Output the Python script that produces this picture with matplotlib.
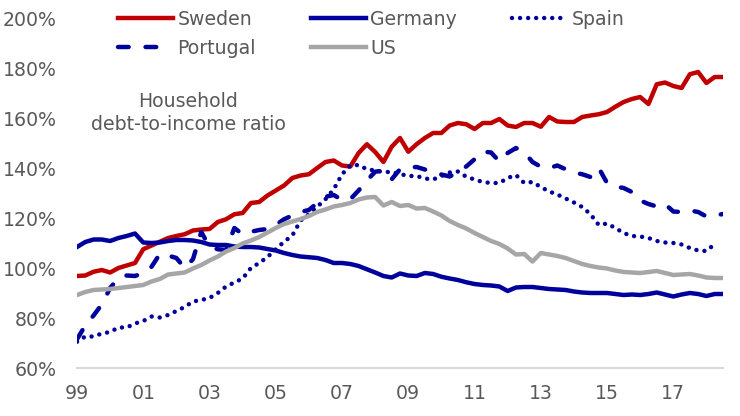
import numpy as np
import matplotlib
matplotlib.use("Agg")
import matplotlib.pyplot as plt

# Quarterly data, 1999Q1 .. 2018Q3 (79 quarters), household debt-to-income ratio (%)
sweden = [96.8, 97.0, 98.5, 99.2, 98.2, 100.0, 101.0, 102.0, 107.5, 109.0,
          110.5, 112.0, 112.8, 113.5, 115.0, 115.4, 115.6, 118.4, 119.5, 121.5,
          122.0, 126.0, 126.4, 129.0, 131.0, 133.0, 136.0, 137.0, 137.5, 140.0,
          142.4, 143.0, 141.0, 140.6, 146.0, 149.5, 146.4, 142.4, 148.5, 152.0,
          146.5, 149.5, 152.0, 154.0, 154.0, 157.0, 158.0, 157.5, 155.6, 158.0,
          158.0, 159.6, 157.0, 156.4, 158.0, 158.0, 156.5, 160.4, 158.6, 158.4,
          158.4, 160.4, 161.0, 161.5, 162.4, 164.5, 166.4, 167.6, 168.4, 165.6,
          173.5, 174.2, 172.8, 172.0, 177.5, 178.4, 174.0, 176.4, 176.4]
germany = [108.4, 110.4, 111.4, 111.4, 110.8, 112.0, 112.8, 113.8, 110.2, 110.0,
           110.2, 110.8, 111.2, 111.2, 111.0, 110.4, 109.4, 109.2, 109.2, 108.6,
           108.4, 108.4, 108.2, 107.6, 107.0, 106.0, 105.2, 104.6, 104.3, 104.0,
           103.2, 102.0, 102.0, 101.6, 100.8, 99.5, 98.2, 96.8, 96.2, 97.8,
           97.0, 96.8, 98.0, 97.6, 96.5, 95.8, 95.2, 94.3, 93.6, 93.2,
           93.0, 92.6, 90.8, 92.2, 92.4, 92.4, 92.0, 91.6, 91.4, 91.2,
           90.6, 90.2, 90.0, 90.0, 90.0, 89.6, 89.2, 89.4, 89.2, 89.6,
           90.2, 89.4, 88.6, 89.4, 90.0, 89.6, 88.8, 89.6, 89.6]
spain = [70.5, 72.6, 72.6, 73.8, 74.4, 76.2, 76.2, 77.8, 78.8, 80.6,
         80.2, 81.2, 82.8, 84.4, 86.6, 87.2, 88.0, 90.0, 92.6, 94.2,
         95.8, 100.0, 102.0, 104.4, 107.5, 110.5, 113.0, 119.0, 121.5, 124.5,
         127.5, 131.5, 137.5, 141.0, 141.2, 139.5, 139.0, 138.4, 138.4, 137.6,
         136.8, 136.8, 135.8, 135.4, 136.8, 138.2, 138.6, 136.5, 135.4, 134.4,
         134.0, 134.0, 136.0, 137.2, 134.0, 134.4, 132.4, 130.6, 129.4, 127.8,
         126.2, 124.4, 121.5, 117.2, 117.8, 116.0, 114.0, 112.8, 112.6, 112.0,
         110.8, 110.2, 110.0, 109.4, 108.0, 107.0, 106.8, 109.6, np.nan]
portugal = [71.5, 77.0, 81.0, 85.5, 92.0, 96.0, 97.0, 96.8, 98.0, 100.5,
            105.6, 105.0, 104.0, 100.0, 103.5, 114.4, 108.5, 107.5, 107.2, 116.0,
            113.5, 114.5, 115.2, 115.6, 117.2, 119.5, 121.0, 122.4, 123.2, 126.0,
            128.5, 129.2, 127.2, 127.5, 131.0, 135.0, 138.5, 139.0, 135.5, 139.5,
            140.2, 140.4, 139.4, 138.2, 137.4, 136.6, 138.5, 140.6, 143.5, 146.6,
            146.2, 142.6, 146.0, 148.0, 146.3, 142.4, 140.5, 140.0, 141.0, 139.5,
            138.2, 137.5, 136.4, 140.0, 134.0, 132.6, 132.0, 130.4, 127.0, 125.6,
            124.6, 125.6, 122.6, 122.4, 123.0, 122.4, 120.6, 121.0, 121.6]
us = [89.2, 90.4, 91.2, 91.4, 91.6, 92.0, 92.4, 92.8, 93.2, 94.6,
      95.6, 97.4, 97.8, 98.2, 99.8, 101.2, 103.0, 104.6, 106.6, 108.0,
      109.8, 111.0, 112.4, 114.2, 116.0, 117.6, 118.6, 119.6, 120.8, 122.4,
      123.4, 124.6, 125.2, 126.0, 127.4, 128.2, 128.4, 125.0, 126.4, 124.8,
      125.2, 123.8, 124.0, 122.6, 121.0, 118.8, 117.2, 115.8, 114.0, 112.4,
      110.8, 109.6, 107.8, 105.4, 105.6, 102.6, 106.0, 105.4, 104.8, 104.0,
      102.8, 101.6, 100.8, 100.2, 99.8, 99.0, 98.4, 98.2, 98.0, 98.4,
      98.8, 98.0, 97.2, 97.4, 97.6, 97.0, 96.2, 96.0, 96.0]

xtick_labels = ["99", "01", "03", "05", "07", "09", "11", "13", "15", "17"]
ytick_values = [60, 80, 100, 120, 140, 160, 180, 200]

RED = "#C00000"
NAVY = "#00009C"
GREY = "#A6A6A6"
TXT = "#595959"
FS = 13.6

plt.rcParams["font.family"] = ["DejaVu Sans"]
fig = plt.figure(figsize=(7.40, 4.16), dpi=100)
W, H = 740, 416
ax = fig.add_axes([77 / W, 1 - 368 / H, (723 - 77) / W, (368 - 18) / H])

q = np.arange(len(sweden))
lw = 3.2
l_sw, = ax.plot(q, sweden, color=RED, lw=lw, solid_joinstyle="round", label="Sweden")
l_de, = ax.plot(q, germany, color=NAVY, lw=lw, solid_joinstyle="round", label="Germany")
l_es, = ax.plot(q, spain, color=NAVY, lw=lw, linestyle=(0, (0.01, 1.8)),
                dash_capstyle="round", label="Spain")
l_pt, = ax.plot(q, portugal, color=NAVY, lw=lw, linestyle=(0, (2.4, 3.8)),
                dash_capstyle="round", label="Portugal")
l_us, = ax.plot(q, us, color=GREY, lw=lw, solid_joinstyle="round", label="US")

ax.set_xlim(0, len(sweden) - 1)
ax.set_ylim(60, 200)
ax.set_xticks(np.arange(0, 8 * len(xtick_labels), 8))
ax.set_xticklabels(xtick_labels)
ax.set_yticks(ytick_values)
ax.set_yticklabels([f"{v}%" for v in ytick_values])
ax.tick_params(axis="both", length=0, labelsize=FS, colors=TXT)
ax.tick_params(axis="y", pad=14.4)
ax.tick_params(axis="x", pad=11.5)
for s in ["top", "right", "left"]:
    ax.spines[s].set_visible(False)
ax.spines["bottom"].set_color("#D9D9D9")
ax.spines["bottom"].set_linewidth(1.5)
ax.spines["bottom"].set_zorder(0)

ax.text(13.4, 162.0, "Household\ndebt-to-income ratio", ha="center", va="center",
        fontsize=FS, color=TXT, linespacing=1.32)

leg = fig.legend([l_sw, l_pt, l_de, l_us, l_es],
                 ["Sweden", "Portugal", "Germany", "US", "Spain"],
                 ncol=3, loc="upper left", bbox_to_anchor=(118 / W, 1 - 10 / H),
                 frameon=False, fontsize=FS, handlelength=2.9, handletextpad=0.25,
                 columnspacing=2.9, labelspacing=0.53, borderpad=0, borderaxespad=0)
for t in leg.get_texts():
    t.set_color(TXT)

fig.savefig("out.png", dpi=100)
